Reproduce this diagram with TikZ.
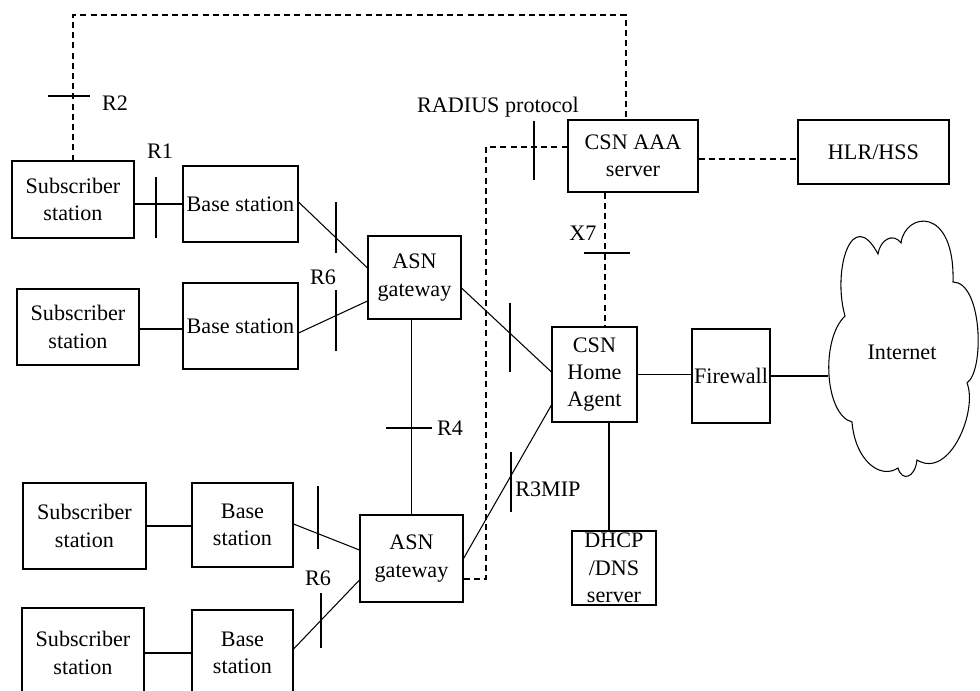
\documentclass[tikz,border=0pt]{standalone}
\usepackage{fontspec}
\setmainfont{Liberation Serif}
\usetikzlibrary{calc}
\newdimen\pxu
\pxu=0.02cm
\newcommand\mybox[6]{\node[box,minimum width=#4\pxu,minimum height=#5\pxu] (#1) at (#2,#3) {#6};}
\begin{document}
\begin{tikzpicture}[x=0.02cm,y=-0.02cm,
  box/.style={draw,line width=0.6pt,inner sep=0pt,align=center,font=\fontsize{12.6}{15.6}\selectfont},
  lbl/.style={inner sep=0pt,font=\fontsize{12.6}{15.6}\selectfont},
  conn/.style={line width=0.6pt},
  dconn/.style={line width=0.6pt,dash pattern=on 3.4pt off 2.4pt},
  tick/.style={line width=0.6pt}]
\useasboundingbox (0,0) rectangle (980,690);
\clip (0,0) rectangle (980,690);
% boxes
\mybox{ss1}{73}{199.5}{122}{77}{Subscriber\\station}
\mybox{bs1}{240.5}{204}{115}{76}{Base station}
\mybox{aaa}{633}{156}{130}{72}{CSN AAA\\server}
\mybox{hlr}{873.5}{152}{151}{64}{HLR/HSS}
\mybox{asn1}{414.5}{277.5}{93}{83}{ASN\\gateway}
\mybox{ss2}{78}{327}{122}{76}{Subscriber\\station}
\mybox{bs2}{240.5}{326}{115}{86}{Base station}
\mybox{ha}{594.5}{374.5}{85}{95}{CSN\\Home\\Agent}
\mybox{fw}{731}{376}{78}{94}{Firewall}
\mybox{asn2}{411.5}{558.5}{103}{87}{ASN\\gateway}
\mybox{dhcp}{614}{568}{84}{74}{DHCP\\/DNS\\server}
\mybox{ss3}{84.5}{526}{123}{86}{Subscriber\\station}
\mybox{bs3}{242.5}{525}{101}{84}{Base\\station}
\mybox{ss4}{83}{653}{122}{90}{Subscriber\\station}
\mybox{bs4}{242.5}{653}{101}{86}{Base\\station}
% cloud
\draw[line width=0.6pt] (845,316) .. controls (832,270) and (852,205) .. (878,254)
 .. controls (880,240) and (893,232) .. (901,243)
 .. controls (905,212) and (955,205) .. (953,282)
 .. controls (982,282) and (985,370) .. (967,383)
 .. controls (978,410) and (950,480) .. (917,460)
 .. controls (915,478) and (902,482) .. (898,468)
 .. controls (880,480) and (855,460) .. (852,422)
 .. controls (825,415) and (820,340) .. (845,316) -- cycle;
\node[lbl] (inet) at (902,352) {Internet};
\coordinate (cloudL) at (828,375);
% helper coordinates
\coordinate (top) at (0,15);
\coordinate (aaaT) at ($(aaa.north)+(-7,0)$);
\coordinate (x7) at (605,0);
\coordinate (dh) at (609,0);
\coordinate (rc1) at (486,147);
\coordinate (rc2) at (486,579);
\coordinate (bs2w) at ($(bs2.west)+(0,3)$);
\coordinate (aaae) at ($(aaa.east)+(0,3)$);
% solid connectors
\draw[conn] (bs1.west) -- (bs1.west -| ss1.east);
\draw[conn] (bs2w) -- (bs2w -| ss2.east);
\draw[conn] (ss3.east) -- (ss3.east -| bs3.west);
\draw[conn] (ss4.east) -- (ss4.east -| bs4.west);
\draw[conn] ($(bs1.east)+(0,-2)$) -- ($(asn1.west)+(0,-9.5)$);
\draw[conn] ($(bs2.east)+(0,7)$) -- ($(asn1.west)+(0,23.5)$);
\draw[conn] ($(bs3.east)+(0,-1)$) -- ($(asn2.west)+(0,-8.5)$);
\draw[conn] ($(bs4.east)+(0,-4)$) -- ($(asn2.west)+(0,21.5)$);
\draw[conn] (asn1.south -| asn2.north) -- (asn2.north);
\draw[conn] ($(asn1.east)+(0,10.5)$) -- ($(ha.west)+(0,-2.5)$);
\draw[conn] (asn2.east) -- ($(ha.west)+(0,30.5)$);
\draw[conn] (ha.east) -- (ha.east -| fw.west);
\draw[conn] (fw.east) -- (fw.east -| cloudL);
\draw[conn] (ha.south -| dh) -- (dhcp.north -| dh);
% dashed connectors
\draw[dconn] (ss1.north) -- (ss1.north |- top) -- (aaaT |- top) -- (aaaT);
\draw[dconn] ($(aaa.west)+(0,-9)$) -- (rc1) -- (rc2) -- (rc2 -| asn2.east);
\draw[dconn] (aaa.south -| x7) -- (ha.north -| x7);
\draw[dconn] (aaae) -- (aaae -| hlr.west);
% ticks
\draw[tick] (48,96) -- (90,96);
\draw[tick] (156,177) -- (156,238);
\draw[tick] (336,202) -- (336,253);
\draw[tick] (336,290) -- (336,351);
\draw[tick] (534,121) -- (534,180);
\draw[tick] (584,253) -- (630,253);
\draw[tick] (510,303) -- (510,372);
\draw[tick] (386,428) -- (432,428);
\draw[tick] (511,452) -- (511,512);
\draw[tick] (318,486) -- (318,549);
\draw[tick] (321,593) -- (321,648);
% labels
\node[lbl] (lr2) at (115,103) {R2};
\node[lbl] (lr1) at (160,151) {R1};
\node[lbl] (lr6a) at (323,277) {R6};
\node[lbl] (lrad) at (498,107) {RADIUS protocol};
\node[lbl] (lx7) at (583,233) {X7};
\node[lbl] (lr4) at (450,428) {R4};
\node[lbl,anchor=west] (lr3) at (515,489) {R3MIP};
\node[lbl] (lr6b) at (318,578) {R6};
\end{tikzpicture}
\end{document}
